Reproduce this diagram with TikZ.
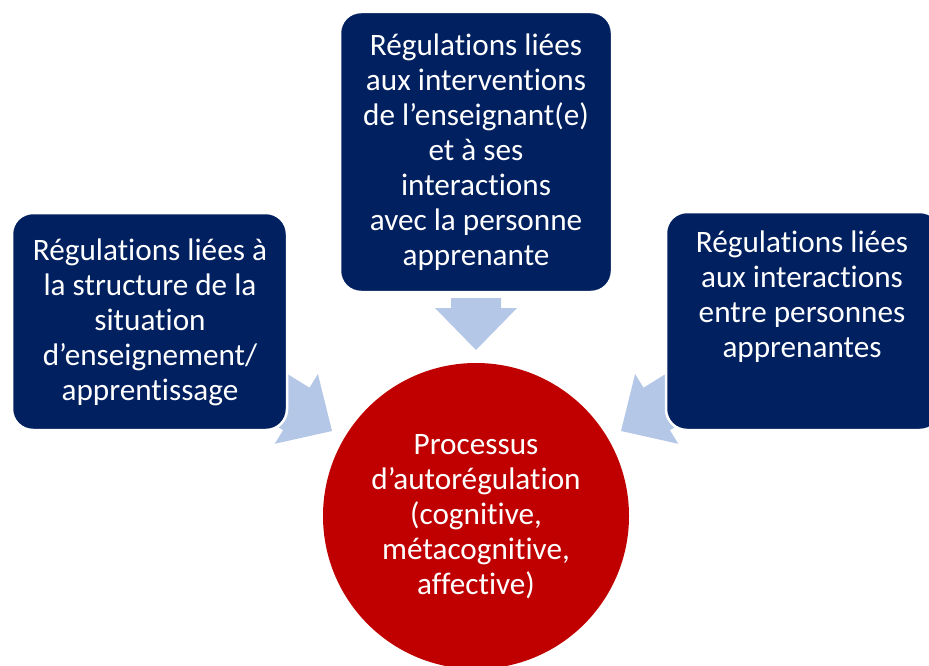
\documentclass[tikz,border=0pt]{standalone}
\usepackage{fontspec}
\setmainfont{Carlito}[Ligatures={NoCommon}]
\definecolor{navy}{RGB}{0,32,96}
\definecolor{redc}{RGB}{192,0,0}
\definecolor{arrowc}{RGB}{180,199,231}
\tikzset{
  bluebox/.style={draw=white, line width=2.5pt, fill=navy, rounded corners=21pt},
  blockarrow/.style={fill=arrowc, draw=none},
  lbl/.style={text=white, align=center, font=\fontsize{31.2}{35}\selectfont, inner sep=0pt}
}
\begin{document}
\begin{tikzpicture}[x=1pt,y=-1pt]
\useasboundingbox (0,0) rectangle (929,666);
\clip (0,0) rectangle (929,666);
% block arrows
\draw[blockarrow] (451,298) -- (501,298) -- (501,308) -- (517,308) -- (476,350) -- (435,308) -- (451,308) -- cycle;
\draw[blockarrow] (258.5,356.1) -- (309.5,387.7) -- (317.9,374.0) -- (332,431) -- (274.7,443.8) -- (283.1,430.2) -- (232.1,398.5) -- cycle;
\draw[blockarrow] (694.5,356.1) -- (643.5,387.7) -- (635.1,374.0) -- (621,431) -- (678.3,443.8) -- (669.9,430.2) -- (720.9,398.5) -- cycle;
% boxes
\draw[bluebox] (340,12) rectangle (612,292);
\draw[bluebox] (12,213) rectangle (287,430);
\draw[bluebox] (666,212) rectangle (941,430);
\fill[redc] (476,516) circle (153);
% labels
\node[lbl] (top) at (476,152) {Régulations liées\\aux interventions\\de l’enseignant(e)\\et à ses\\interactions\\avec la personne\\apprenante};
\node[lbl] (left) at (150,322) {Régulations liées à\\la structure de la\\situation\\d’enseignement/\\apprentissage};
\node[lbl] (right) at (802,297) {Régulations liées\\aux interactions\\entre personnes\\apprenantes};
\node[lbl] (centre) at (476,517) {Processus\\d’autorégulation\\(cognitive,\\métacognitive,\\affective)};
\end{tikzpicture}
\end{document}
